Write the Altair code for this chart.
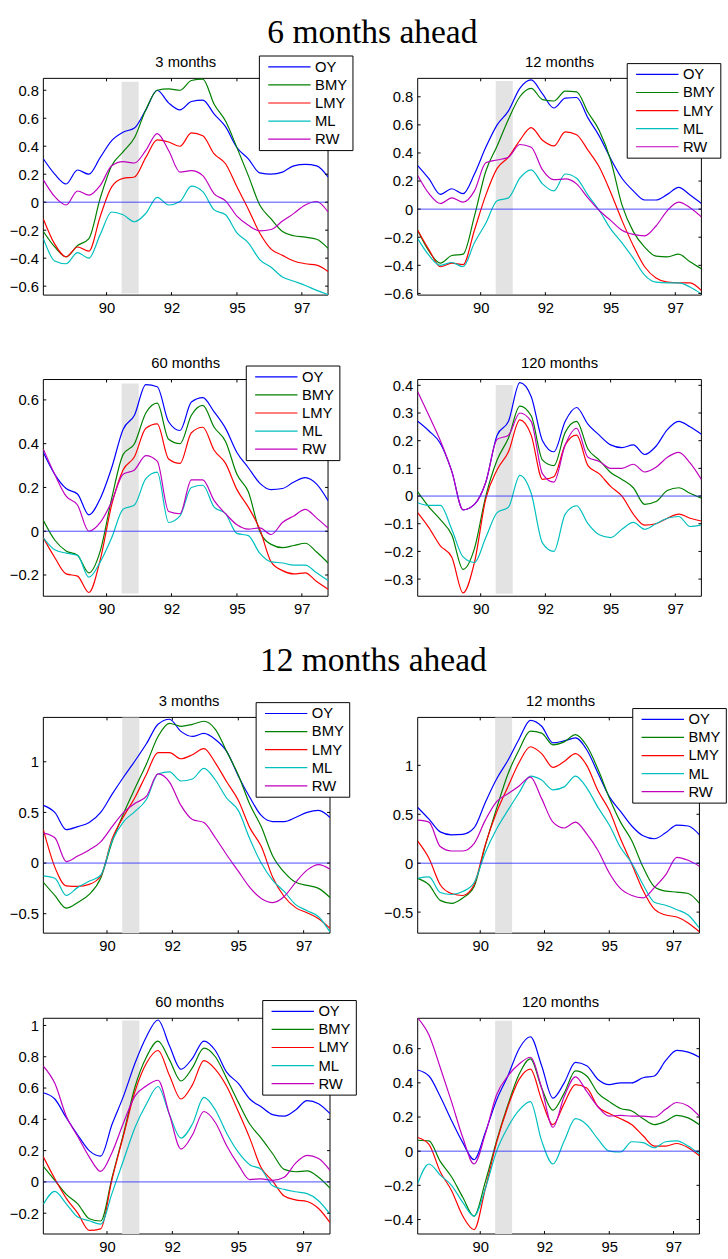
import altair as alt
import pandas as pd

FONT = "Liberation Sans"
SERIF = "Liberation Serif"
SERIES = ["OY", "BMY", "LMY", "ML", "RW"]
COLORS = ["#0000ff", "#008000", "#ff0000", "#00bfbf", "#bf00bf"]
T = list(range(0, 101, 4))
X_TICKS = [22.2, 45.0, 68.0, 90.8]
X_LABELS = ["90", "92", "95", "97"]
RECESSION = [27.5, 33.5]

# ---- 6 months ahead, 3 months
H6_M3_OY = [0.31, 0.20, 0.13, 0.23, 0.20, 0.32, 0.44, 0.50, 0.53, 0.66, 0.80, 0.71, 0.66, 0.72, 0.73, 0.63, 0.54, 0.39, 0.31, 0.21, 0.20, 0.215, 0.26, 0.27, 0.26, 0.18]
H6_M3_BMY = [-0.21, -0.32, -0.39, -0.31, -0.26, 0.03, 0.26, 0.36, 0.46, 0.66, 0.80, 0.81, 0.80, 0.87, 0.88, 0.70, 0.58, 0.39, 0.19, -0.02, -0.12, -0.21, -0.24, -0.25, -0.265, -0.33]
H6_M3_LMY = [-0.12, -0.30, -0.39, -0.32, -0.35, -0.10, 0.11, 0.17, 0.18, 0.32, 0.445, 0.43, 0.40, 0.495, 0.475, 0.345, 0.275, 0.11, -0.05, -0.22, -0.335, -0.38, -0.42, -0.44, -0.45, -0.495]
H6_M3_ML = [-0.26, -0.42, -0.44, -0.36, -0.40, -0.23, -0.07, -0.09, -0.14, -0.08, 0.035, -0.02, 0.005, 0.115, 0.075, -0.055, -0.09, -0.22, -0.29, -0.41, -0.465, -0.535, -0.565, -0.595, -0.63, -0.66]
H6_M3_RW = [0.16, 0.04, -0.02, 0.08, 0.05, 0.12, 0.26, 0.29, 0.28, 0.37, 0.49, 0.37, 0.215, 0.225, 0.19, 0.06, 0.01, -0.10, -0.165, -0.205, -0.195, -0.135, -0.08, -0.02, 0.005, -0.07]

# ---- 6 months ahead, 12 months
H6_M12_OY = [0.31, 0.215, 0.105, 0.145, 0.11, 0.25, 0.44, 0.60, 0.70, 0.86, 0.92, 0.82, 0.72, 0.79, 0.795, 0.65, 0.52, 0.36, 0.22, 0.13, 0.065, 0.065, 0.105, 0.155, 0.10, 0.04]
H6_M12_BMY = [-0.15, -0.30, -0.385, -0.33, -0.32, -0.05, 0.27, 0.45, 0.64, 0.80, 0.86, 0.78, 0.77, 0.84, 0.835, 0.69, 0.56, 0.35, 0.03, -0.16, -0.27, -0.335, -0.34, -0.32, -0.375, -0.425]
H6_M12_LMY = [-0.15, -0.29, -0.41, -0.385, -0.395, -0.15, 0.10, 0.29, 0.37, 0.49, 0.58, 0.49, 0.45, 0.55, 0.53, 0.42, 0.30, 0.12, -0.08, -0.26, -0.41, -0.49, -0.52, -0.525, -0.525, -0.58]
H6_M12_ML = [-0.21, -0.33, -0.40, -0.38, -0.41, -0.24, -0.10, 0.06, 0.08, 0.22, 0.28, 0.18, 0.13, 0.25, 0.22, 0.10, -0.01, -0.14, -0.24, -0.35, -0.47, -0.52, -0.525, -0.525, -0.555, -0.605]
H6_M12_RW = [0.24, 0.11, 0.04, 0.08, 0.05, 0.13, 0.33, 0.35, 0.37, 0.46, 0.44, 0.28, 0.21, 0.215, 0.18, 0.08, -0.01, -0.08, -0.15, -0.18, -0.19, -0.12, -0.01, 0.05, 0.01, -0.055]

# ---- 6 months ahead, 60 months
H6_M60_OY = [0.36, 0.26, 0.195, 0.17, 0.075, 0.15, 0.29, 0.465, 0.53, 0.67, 0.66, 0.50, 0.46, 0.59, 0.61, 0.545, 0.47, 0.36, 0.29, 0.22, 0.19, 0.195, 0.225, 0.245, 0.215, 0.14]
H6_M60_BMY = [0.05, -0.04, -0.09, -0.11, -0.19, -0.09, 0.15, 0.35, 0.40, 0.54, 0.585, 0.42, 0.40, 0.53, 0.575, 0.475, 0.41, 0.26, 0.18, 0.0, -0.06, -0.075, -0.065, -0.055, -0.095, -0.145]
H6_M60_LMY = [-0.03, -0.12, -0.195, -0.205, -0.28, -0.13, 0.12, 0.28, 0.34, 0.47, 0.49, 0.33, 0.31, 0.45, 0.475, 0.37, 0.31, 0.19, 0.11, 0.01, -0.14, -0.18, -0.195, -0.19, -0.23, -0.265]
H6_M60_ML = [-0.03, -0.085, -0.10, -0.11, -0.21, -0.14, -0.03, 0.10, 0.12, 0.24, 0.27, 0.04, 0.07, 0.20, 0.21, 0.11, 0.08, -0.01, -0.02, -0.10, -0.14, -0.145, -0.155, -0.155, -0.19, -0.225]
H6_M60_RW = [0.375, 0.26, 0.16, 0.12, 0.0, 0.04, 0.135, 0.26, 0.28, 0.345, 0.32, 0.09, 0.08, 0.235, 0.235, 0.14, 0.08, 0.03, 0.01, 0.015, -0.015, 0.04, 0.07, 0.10, 0.06, 0.015]

# ---- 6 months ahead, 120 months
H6_M120_OY = [0.27, 0.235, 0.19, 0.09, -0.05, -0.03, 0.05, 0.22, 0.27, 0.41, 0.36, 0.20, 0.16, 0.27, 0.32, 0.26, 0.22, 0.185, 0.175, 0.185, 0.15, 0.18, 0.24, 0.27, 0.25, 0.223]
H6_M120_BMY = [0.015, -0.04, -0.085, -0.14, -0.265, -0.19, 0.0, 0.13, 0.21, 0.325, 0.29, 0.13, 0.11, 0.23, 0.27, 0.17, 0.13, 0.085, 0.06, 0.03, -0.03, -0.02, 0.02, 0.03, 0.01, -0.008]
H6_M120_LMY = [-0.06, -0.115, -0.18, -0.22, -0.35, -0.24, -0.01, 0.095, 0.16, 0.275, 0.22, 0.06, 0.07, 0.185, 0.22, 0.11, 0.08, 0.035, 0.0, -0.065, -0.105, -0.10, -0.08, -0.065, -0.08, -0.09]
H6_M120_ML = [-0.024, -0.034, -0.034, -0.12, -0.22, -0.24, -0.15, -0.06, -0.04, 0.075, 0.01, -0.17, -0.20, -0.065, -0.035, -0.10, -0.14, -0.15, -0.12, -0.095, -0.12, -0.10, -0.08, -0.074, -0.11, -0.105]
H6_M120_RW = [0.377, 0.29, 0.20, 0.09, -0.05, -0.03, 0.05, 0.205, 0.22, 0.30, 0.27, 0.08, 0.05, 0.185, 0.245, 0.14, 0.125, 0.10, 0.10, 0.115, 0.087, 0.104, 0.14, 0.158, 0.12, 0.06]

# ---- 12 months ahead, 3 months
H12_M3_OY = [0.57, 0.50, 0.33, 0.36, 0.40, 0.50, 0.68, 0.85, 1.01, 1.18, 1.37, 1.42, 1.30, 1.25, 1.28, 1.22, 1.10, 0.86, 0.65, 0.47, 0.41, 0.41, 0.45, 0.50, 0.52, 0.45]
H12_M3_BMY = [-0.19, -0.32, -0.445, -0.39, -0.31, -0.15, 0.21, 0.49, 0.74, 0.98, 1.25, 1.38, 1.35, 1.37, 1.40, 1.32, 1.10, 0.87, 0.58, 0.36, 0.07, -0.09, -0.19, -0.22, -0.25, -0.34]
H12_M3_LMY = [0.33, -0.04, -0.225, -0.23, -0.21, -0.13, 0.24, 0.46, 0.65, 0.88, 1.09, 1.09, 1.03, 1.07, 1.13, 0.99, 0.80, 0.62, 0.35, 0.165, -0.14, -0.33, -0.44, -0.49, -0.55, -0.645]
H12_M3_ML = [-0.127, -0.15, -0.32, -0.24, -0.18, -0.12, 0.22, 0.41, 0.51, 0.63, 0.88, 0.90, 0.81, 0.83, 0.935, 0.82, 0.64, 0.52, 0.24, 0.0, -0.17, -0.28, -0.41, -0.47, -0.53, -0.68]
H12_M3_RW = [0.295, 0.25, 0.015, 0.07, 0.13, 0.21, 0.36, 0.50, 0.59, 0.66, 0.88, 0.80, 0.57, 0.43, 0.40, 0.25, 0.08, -0.08, -0.24, -0.35, -0.39, -0.33, -0.19, -0.07, -0.015, -0.06]

# ---- 12 months ahead, 12 months
H12_M12_OY = [0.57, 0.45, 0.32, 0.29, 0.295, 0.36, 0.62, 0.86, 1.05, 1.27, 1.46, 1.40, 1.23, 1.25, 1.28, 1.16, 0.92, 0.68, 0.53, 0.38, 0.28, 0.25, 0.31, 0.39, 0.38, 0.29]
H12_M12_BMY = [-0.155, -0.22, -0.38, -0.41, -0.355, -0.24, 0.18, 0.56, 0.91, 1.16, 1.35, 1.33, 1.21, 1.24, 1.315, 1.20, 0.96, 0.67, 0.42, 0.23, -0.04, -0.24, -0.285, -0.295, -0.31, -0.41]
H12_M12_LMY = [0.225, 0.05, -0.22, -0.31, -0.33, -0.22, 0.19, 0.52, 0.78, 1.03, 1.19, 1.12, 0.98, 1.04, 1.12, 1.00, 0.74, 0.54, 0.25, -0.01, -0.28, -0.47, -0.53, -0.55, -0.61, -0.70]
H12_M12_ML = [-0.155, -0.14, -0.30, -0.32, -0.29, -0.20, 0.11, 0.35, 0.54, 0.72, 0.89, 0.85, 0.75, 0.78, 0.89, 0.77, 0.57, 0.39, 0.16, 0.0, -0.22, -0.40, -0.43, -0.475, -0.53, -0.665]
H12_M12_RW = [0.44, 0.42, 0.17, 0.125, 0.125, 0.20, 0.44, 0.63, 0.71, 0.79, 0.88, 0.66, 0.42, 0.36, 0.42, 0.30, 0.13, -0.10, -0.26, -0.33, -0.355, -0.25, -0.12, 0.06, 0.03, -0.03]

# ---- 12 months ahead, 60 months
H12_M60_OY = [0.57, 0.53, 0.41, 0.30, 0.20, 0.165, 0.37, 0.55, 0.76, 0.93, 1.035, 0.87, 0.72, 0.79, 0.90, 0.84, 0.70, 0.63, 0.53, 0.48, 0.43, 0.42, 0.46, 0.52, 0.50, 0.436]
H12_M60_BMY = [0.10, 0.01, -0.08, -0.14, -0.235, -0.25, 0.03, 0.31, 0.61, 0.80, 0.90, 0.78, 0.645, 0.73, 0.855, 0.80, 0.66, 0.51, 0.37, 0.28, 0.18, 0.08, 0.065, 0.07, 0.03, -0.04]
H12_M60_LMY = [0.16, 0.02, -0.105, -0.20, -0.31, -0.30, 0.02, 0.30, 0.58, 0.76, 0.84, 0.68, 0.53, 0.62, 0.775, 0.72, 0.61, 0.45, 0.28, 0.09, 0.005, -0.09, -0.115, -0.125, -0.17, -0.26]
H12_M60_ML = [-0.143, -0.06, -0.14, -0.225, -0.248, -0.27, -0.07, 0.14, 0.35, 0.50, 0.61, 0.43, 0.28, 0.37, 0.54, 0.46, 0.31, 0.19, 0.11, 0.08, -0.025, -0.048, -0.063, -0.075, -0.12, -0.206]
H12_M60_RW = [0.74, 0.63, 0.42, 0.29, 0.16, 0.067, 0.19, 0.38, 0.55, 0.615, 0.65, 0.43, 0.21, 0.30, 0.45, 0.38, 0.23, 0.11, 0.015, 0.02, 0.01, 0.03, 0.12, 0.17, 0.15, 0.074]

# ---- 12 months ahead, 120 months
H12_M120_OY = [0.475, 0.44, 0.32, 0.18, 0.05, -0.05, 0.11, 0.30, 0.44, 0.60, 0.67, 0.50, 0.31, 0.40, 0.52, 0.50, 0.42, 0.39, 0.40, 0.40, 0.43, 0.44, 0.53, 0.59, 0.58, 0.55]
H12_M120_BMY = [0.064, 0.06, -0.06, -0.15, -0.27, -0.38, -0.18, 0.06, 0.27, 0.45, 0.54, 0.37, 0.24, 0.34, 0.47, 0.44, 0.34, 0.29, 0.25, 0.235, 0.19, 0.155, 0.175, 0.21, 0.195, 0.155]
H12_M120_LMY = [0.08, 0.04, -0.12, -0.23, -0.38, -0.46, -0.22, 0.05, 0.26, 0.42, 0.48, 0.30, 0.155, 0.28, 0.39, 0.37, 0.26, 0.22, 0.19, 0.155, 0.09, 0.03, 0.03, 0.045, 0.02, -0.027]
H12_M120_ML = [-0.19, -0.075, -0.14, -0.20, -0.30, -0.38, -0.22, 0.0, 0.14, 0.24, 0.29, 0.06, -0.075, 0.06, 0.19, 0.155, 0.07, 0.0, -0.005, 0.055, 0.05, 0.02, 0.055, 0.06, 0.03, -0.017]
H12_M120_RW = [0.78, 0.68, 0.49, 0.29, 0.08, -0.075, 0.10, 0.33, 0.44, 0.51, 0.55, 0.37, 0.14, 0.32, 0.435, 0.35, 0.26, 0.205, 0.21, 0.205, 0.205, 0.20, 0.245, 0.285, 0.265, 0.205]

TICK = 3
LEG_W, LEG_H = 95, 96
ROW_GAP = 85.7
SECTION_EXTRA = 123 - ROW_GAP   # extra room above the second section


def x_label_expr():
    expr = f"'{X_LABELS[-1]}'"
    for i in range(len(X_TICKS) - 2, -1, -1):
        mid = (X_TICKS[i] + X_TICKS[i + 1]) / 2
        expr = f"datum.value < {mid} ? '{X_LABELS[i]}' : " + expr
    return expr


def panel(name, values, ydom, yticks, shade_y, w, h, legend_pos=None, heading=None,
          anchors=(), title_x=None, extra=0.0):
    # 'extra' reserves empty pixels above the plot frame inside the view
    H = h + extra
    span = ydom[1] - ydom[0]
    top = ydom[1] + span * extra / h
    xs = alt.Scale(domain=[0, 100], nice=False, zero=False)
    ys = alt.Scale(domain=[ydom[0], top], nice=False, zero=False)
    xax = alt.Axis(values=X_TICKS, labelExpr=x_label_expr(), title=None)
    yax = alt.Axis(values=yticks, format=".1~f", title=None)
    one = pd.DataFrame({"k": [0]})
    layers = []
    # frame
    layers.append(alt.Chart(one).mark_rect(fill="transparent", stroke="black", strokeWidth=1).encode(
        x=alt.value(0), x2=alt.value(w), y=alt.value(extra), y2=alt.value(H)))
    shade_df = pd.DataFrame({"t0": [RECESSION[0]], "t1": [RECESSION[1]],
                             "y0": [shade_y[0]], "y1": [shade_y[1]]})
    layers.append(alt.Chart(shade_df).mark_rect(color="#e3e3e3").encode(
        x=alt.X("t0:Q", scale=xs, axis=xax), x2="t1:Q",
        y=alt.Y("y0:Q", scale=ys, axis=yax), y2="y1:Q"))
    for s, c in zip(SERIES, COLORS):
        df = pd.DataFrame({"t": T, "v": values[s]})
        layers.append(alt.Chart(df).mark_line(color=c, strokeWidth=1.2, interpolate="monotone", clip=True).encode(
            x=alt.X("t:Q", scale=xs, axis=xax), y=alt.Y("v:Q", scale=ys, axis=yax)))
    layers.append(alt.Chart(pd.DataFrame({"z": [0.0]})).mark_rule(color="#2a2aff", strokeWidth=1, opacity=0.85).encode(
        y=alt.Y("z:Q", scale=ys, axis=yax), x=alt.value(0), x2=alt.value(w)))
    xt = pd.DataFrame({"t": X_TICKS})
    for a, b in [(H, H - TICK), (extra, extra + TICK)]:
        layers.append(alt.Chart(xt).mark_rule(color="black", strokeWidth=1).encode(
            x=alt.X("t:Q", scale=xs, axis=xax), y=alt.value(a), y2=alt.value(b)))
    yt = pd.DataFrame({"v": yticks})
    for a, b in [(0, TICK), (w, w - TICK)]:
        layers.append(alt.Chart(yt).mark_rule(color="black", strokeWidth=1).encode(
            y=alt.Y("v:Q", scale=ys, axis=yax), x=alt.value(a), x2=alt.value(b)))
    # panel title
    layers.append(alt.Chart(pd.DataFrame({"ttl": [name]})).mark_text(
        align="center", baseline="alphabetic", font=FONT, fontSize=15, color="black").encode(
        x=alt.value(w / 2 if title_x is None else title_x), y=alt.value(extra - 11.7), text="ttl:N"))
    if legend_pos is not None:
        lx, ly = legend_pos
        ly = ly + extra
        layers.append(alt.Chart(one).mark_rect(fill="white", stroke="black", strokeWidth=1).encode(
            x=alt.value(lx), x2=alt.value(lx + LEG_W), y=alt.value(ly), y2=alt.value(ly + LEG_H)))
        for i, (s, c) in enumerate(zip(SERIES, COLORS)):
            yy = ly + 11 + 18.35 * i
            layers.append(alt.Chart(one).mark_rule(color=c, strokeWidth=1.2).encode(
                x=alt.value(lx + 9), x2=alt.value(lx + 52), y=alt.value(yy)))
            layers.append(alt.Chart(pd.DataFrame({"label": [s]})).mark_text(
                align="left", baseline="middle", font=FONT, fontSize=15, color="black").encode(
                x=alt.value(lx + 56.5), y=alt.value(yy), text="label:N"))
    if heading is not None:
        text, hx, hy = heading
        layers.append(alt.Chart(pd.DataFrame({"h": [text]})).mark_text(
            font=SERIF, fontSize=34, align="center", baseline="alphabetic", color="black").encode(
            x=alt.value(hx), y=alt.value(hy + extra), text="h:N"))
    # invisible layout anchor (bounds helper)
    for ax_, ay_ in anchors:
        layers.append(alt.Chart(one).mark_rule(opacity=0, strokeWidth=1).encode(
            x=alt.value(ax_ + 0.5), x2=alt.value(ax_ + 1.5), y=alt.value(ay_ + 0.5)))
    return alt.layer(*layers).properties(width=w, height=H,
                                         view=alt.ViewBackground(stroke="transparent"))


def vals(prefix):
    g = globals()
    return {s: g[f"{prefix}_{s}"] for s in SERIES}


p1 = panel("3 months", vals("H6_M3"), [-0.664, 0.885], [-0.6, -0.4, -0.2, 0, 0.2, 0.4, 0.6, 0.8],
           [-0.652, 0.861], 289, 220, legend_pos=(219.3, -22.7),
           heading=("6 months ahead", 334, -36), anchors=[(-44, -70)])
p2 = panel("12 months", vals("H6_M12"), [-0.612, 0.931], [-0.6, -0.4, -0.2, 0, 0.2, 0.4, 0.6, 0.8],
           [-0.605, 0.913], 288, 220, legend_pos=(212.7, -15))
p3 = panel("60 months", vals("H6_M60"), [-0.297, 0.693], [-0.2, 0, 0.2, 0.4, 0.6],
           [-0.285, 0.675], 289, 220, legend_pos=(206, -13.7))
p4 = panel("120 months", vals("H6_M120"), [-0.362, 0.421], [-0.3, -0.2, -0.1, 0, 0.1, 0.2, 0.3, 0.4],
           [-0.353, 0.401], 288, 220)
p5 = panel("3 months", vals("H12_M3"), [-0.692, 1.438], [-0.5, 0, 0.5, 1],
           [-0.692, 1.438], 291, 219, legend_pos=(216, -15),
           heading=("12 months ahead", 335, -47.3), title_x=148, extra=SECTION_EXTRA)
p6 = panel("12 months", vals("H12_M12"), [-0.715, 1.49], [-0.5, 0, 0.5, 1],
           [-0.715, 1.49], 286, 219, legend_pos=(218.3, -9), title_x=145, extra=SECTION_EXTRA)
p7 = panel("60 months", vals("H12_M60"), [-0.333, 1.046], [-0.2, 0, 0.2, 0.4, 0.6, 0.8, 1],
           [-0.333, 1.032], 291, 219, legend_pos=(222.7, -18), title_x=148.5)
p8 = panel("120 months", vals("H12_M120"), [-0.485, 0.778], [-0.4, -0.2, 0, 0.2, 0.4, 0.6],
           [-0.485, 0.764], 286, 219, title_x=145)

chart = alt.concat(p1, p2, p3, p4, p5, p6, p7, p8, columns=2, align="each", bounds="flush",
                   spacing=alt.RowColnumber(row=ROW_GAP, column=89)).properties(
    padding=0, background="white"
).configure_axis(
    labelFont=FONT, labelFontSize=15, labelColor="black", domain=False, ticks=False,
    tickSize=0, grid=False, labelFlush=False
).configure_axisX(labelPadding=6).configure_axisY(labelPadding=5)

chart.save("out.html", embed_options={"renderer": "svg", "actions": False})
